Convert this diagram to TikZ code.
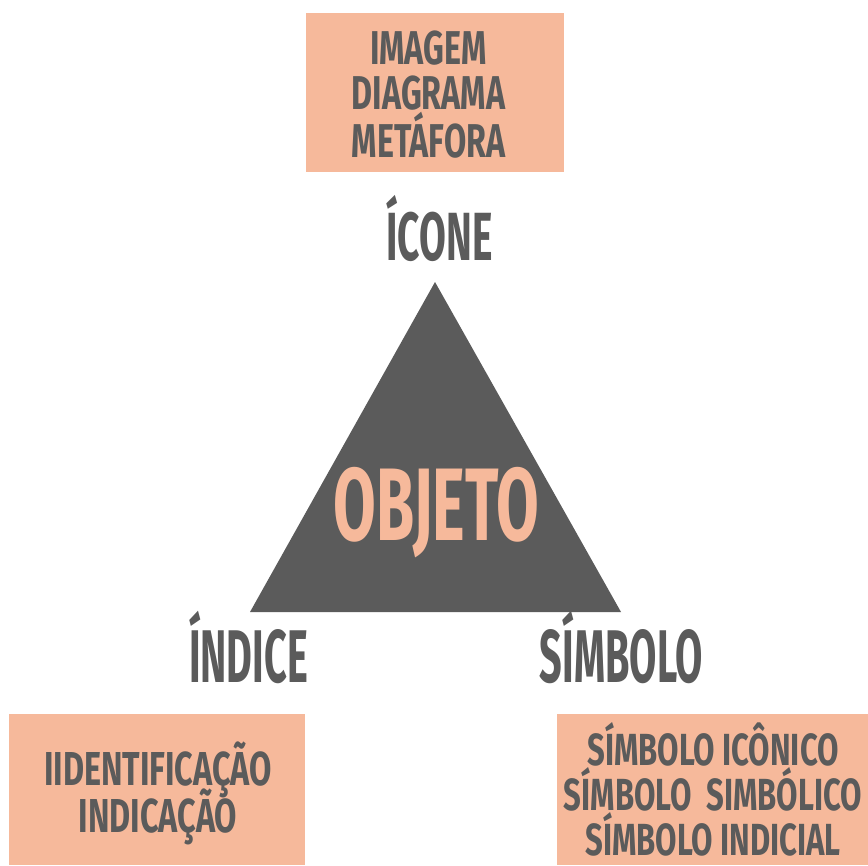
\documentclass[tikz,border=0pt]{standalone}
\usepackage{fontspec}
\newcommand{\fonte}[2]{\fontspec{Fira Sans}[FakeStretch=#1]\bfseries\fontsize{#2}{#2}\selectfont}
\definecolor{salmao}{HTML}{F6B99B}
\definecolor{cinza}{HTML}{5B5B5B}
\tikzset{
  caixa/.style={fill=salmao, draw=none, inner sep=0pt},
  rotulo/.style={text=cinza, anchor=base, inner sep=0pt},
}
\begin{document}
\begin{tikzpicture}[x=0.02cm, y=-0.02cm]
			\useasboundingbox (0,0) rectangle (868,865);

			% Caixas
			\node[caixa, minimum width=258*0.02cm, minimum height=159*0.02cm] (caixaIcone) at (435,92.5) {};
			\node[caixa, minimum width=296*0.02cm, minimum height=151*0.02cm] (caixaIndice) at (157,789.5) {};
			\node[caixa, minimum width=311*0.02cm, minimum height=151*0.02cm] (caixaSimbolo) at (712.5,789.5) {};

			% Triangulo
			\coordinate (topo) at (435,282);
			\coordinate (esq) at (250,612);
			\coordinate (dir) at (621,612);
			\fill[cinza] (topo) -- (esq) -- (dir) -- cycle;
			\node[rotulo, text=salmao, font=\fonte{0.60}{58.7}] (objeto) at (436.5,540) {OBJETO};

			% Vertices
			\node[rotulo, font=\fonte{0.57}{38.8}] (icone) at (439.5,260) {ÍCONE};
			\node[rotulo, font=\fonte{0.53}{42.5}] (indice) at (248.5,682) {ÍNDICE};
			\node[rotulo, font=\fonte{0.53}{42.5}] (simbolo) at (621.5,682) {SÍMBOLO};

			% Textos das caixas
			\foreach \t/\y [count=\i] in {IMAGEM/65, DIAGRAMA/110, METÁFORA/157}
				\node[rotulo, font=\fonte{0.68}{27}] (linhaIcone\i) at (428.5,\y) {\t};
			\foreach \t/\y [count=\i] in {IIDENTIFICAÇÃO/785, INDICAÇÃO/832}
				\node[rotulo, font=\fonte{0.68}{27.1}] (linhaIndice\i) at (158,\y) {\t};
			\foreach \t/\y [count=\i] in {SÍMBOLO ICÔNICO/765, SÍMBOLO\ \ SIMBÓLICO/810, SÍMBOLO INDICIAL/855}
				\node[rotulo, font=\fonte{0.69}{25.6}] (linhaSimbolo\i) at (713,\y) {\t};
		\end{tikzpicture}
\end{document}
